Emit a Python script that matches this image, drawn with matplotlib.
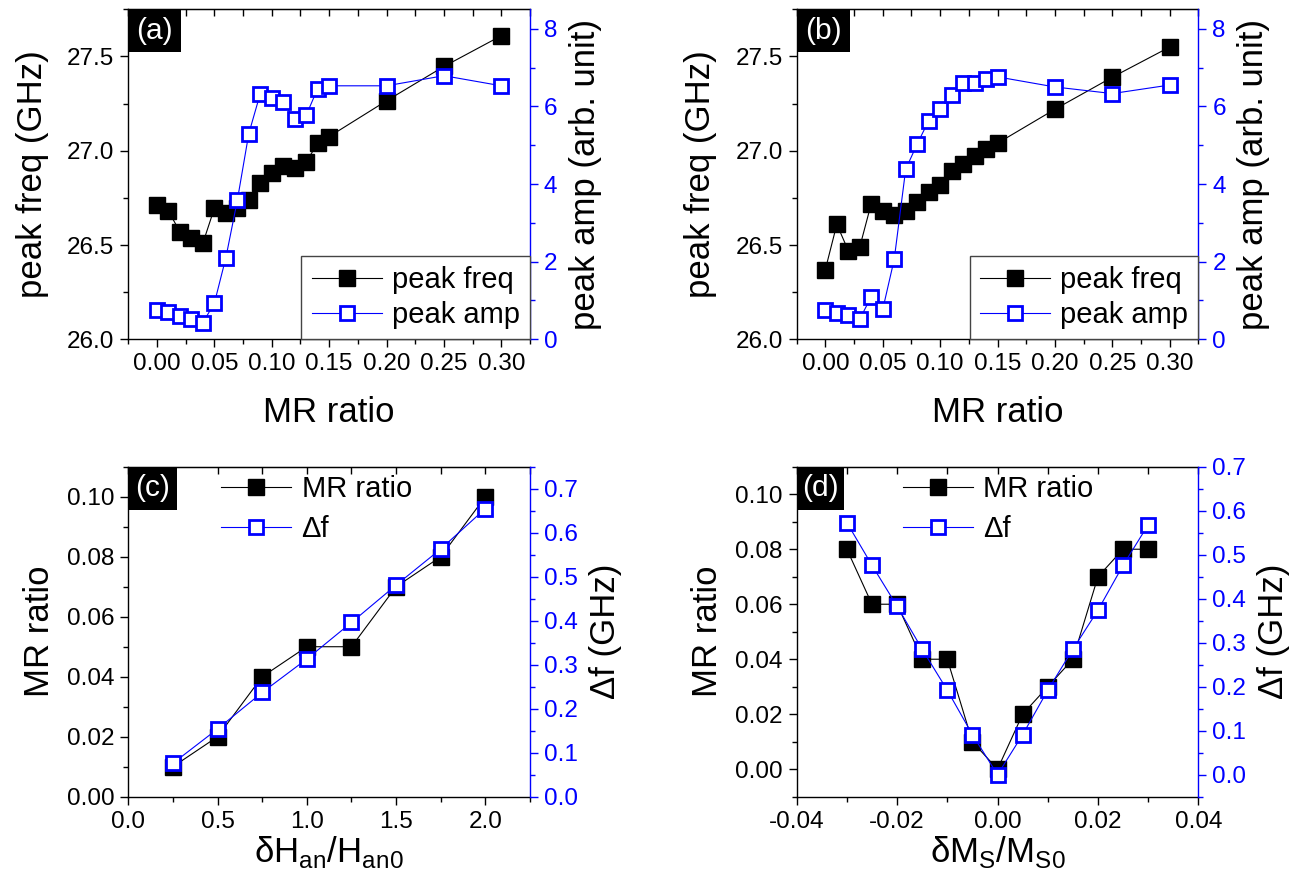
"""Four-panel MR ratio / peak frequency figure."""

import matplotlib
matplotlib.use("Agg")
import matplotlib.pyplot as plt
import matplotlib.patches as mpatches
from matplotlib.ticker import MultipleLocator, FormatStrFormatter

plt.rcParams["font.family"] = ["Liberation Sans", "DejaVu Sans"]
plt.rcParams["mathtext.fontset"] = "custom"
plt.rcParams["mathtext.rm"] = "Liberation Sans"
plt.rcParams["axes.unicode_minus"] = False

BLUE = "#0000FF"
BLACK = "#000000"

# ─── Data ─────────────────────────────────────────────────────────────────────
mr_ratio = [0.00, 0.01, 0.02, 0.03, 0.04, 0.05, 0.06, 0.07, 0.08, 0.09,
            0.10, 0.11, 0.12, 0.13, 0.14, 0.15, 0.20, 0.25, 0.30]

freq_a = [26.71, 26.68, 26.57, 26.535, 26.51, 26.695, 26.67, 26.695, 26.74, 26.83,
          26.88, 26.92, 26.91, 26.94, 27.04, 27.075, 27.265, 27.447, 27.61]
amp_a = [0.75, 0.71, 0.60, 0.52, 0.43, 0.93, 2.10, 3.58, 5.30, 6.33,
         6.21, 6.10, 5.67, 5.77, 6.46, 6.53, 6.53, 6.79, 6.53]

freq_b = [26.37, 26.61, 26.47, 26.49, 26.72, 26.68, 26.66, 26.68, 26.73, 26.78,
          26.82, 26.89, 26.93, 26.97, 27.01, 27.04, 27.22, 27.39, 27.55]
amp_b = [0.75, 0.69, 0.63, 0.52, 1.10, 0.77, 2.06, 4.38, 5.03, 5.63,
         5.93, 6.30, 6.61, 6.60, 6.70, 6.76, 6.50, 6.33, 6.55]

dh_an = [0.25, 0.50, 0.75, 1.00, 1.25, 1.50, 1.75, 2.00]
mr_c = [0.01, 0.02, 0.04, 0.05, 0.05, 0.07, 0.08, 0.10]
df_c = [0.076, 0.154, 0.237, 0.313, 0.396, 0.481, 0.563, 0.655]

dm_s = [-0.030, -0.025, -0.020, -0.015, -0.010, -0.005, 0.000,
        0.005, 0.010, 0.015, 0.020, 0.025, 0.030]
mr_d = [0.08, 0.06, 0.06, 0.04, 0.04, 0.01, 0.00, 0.02, 0.03, 0.04, 0.07, 0.08, 0.08]
df_d = [0.573, 0.476, 0.383, 0.285, 0.192, 0.091, 0.000, 0.091, 0.192, 0.285, 0.374, 0.476, 0.568]

TICK_FS = 17.5
LABEL_FS = 25
LEGEND_FS = 21


def _panel(fig, rect, x, y1, y2, cfg):
    ax = fig.add_axes(rect)
    ax2 = ax.twinx()

    l1, = ax.plot(x, y1, "-s", color=BLACK, lw=0.8, ms=12, mfc=BLACK, mec=BLACK,
                  label=cfg["labels"][0])
    l2, = ax2.plot(x, y2, "-s", color=BLUE, lw=0.8, ms=10, mfc="white", mec=BLUE,
                   mew=2.0, label=cfg["labels"][1])

    ax.set_xlim(*cfg["xlim"])
    ax.set_ylim(*cfg["ylim"])
    ax2.set_ylim(*cfg["ylim2"])
    ax.xaxis.set_major_locator(MultipleLocator(cfg["xmaj"]))
    ax.xaxis.set_minor_locator(MultipleLocator(cfg["xmaj"] / 2))
    ax.xaxis.set_major_formatter(FormatStrFormatter(cfg["xfmt"]))
    ax.yaxis.set_major_locator(MultipleLocator(cfg["ymaj"]))
    ax.yaxis.set_minor_locator(MultipleLocator(cfg["ymaj"] / 2))
    ax.yaxis.set_major_formatter(FormatStrFormatter(cfg["yfmt"]))
    ax2.yaxis.set_major_locator(MultipleLocator(cfg["ymaj2"]))
    ax2.yaxis.set_minor_locator(MultipleLocator(cfg["ymaj2"] / 2))
    ax2.yaxis.set_major_formatter(FormatStrFormatter(cfg["yfmt2"]))

    for a in (ax, ax2):
        for s in a.spines.values():
            s.set_linewidth(1.0)
    ax.spines["right"].set_visible(False)
    ax2.spines["left"].set_visible(False)
    ax2.spines["top"].set_visible(False)
    ax2.spines["bottom"].set_visible(False)
    ax2.spines["right"].set_color(BLUE)

    ax.tick_params(which="both", direction="out", labelsize=TICK_FS, width=1.0, pad=4.5)
    ax.tick_params(which="major", length=5.5)
    ax.tick_params(which="minor", length=3.5)
    ax2.tick_params(which="both", direction="out", colors=BLUE, labelsize=TICK_FS,
                    width=1.0, pad=4.5)
    ax2.tick_params(which="major", length=5.5)
    ax2.tick_params(which="minor", length=3.5)

    # inward ticks along the top edge
    top = ax.secondary_xaxis("top")
    top.xaxis.set_major_locator(MultipleLocator(cfg["xmaj"]))
    top.xaxis.set_minor_locator(MultipleLocator(cfg["xmaj"] / 2))
    top.tick_params(which="both", direction="in", labeltop=False, length=5, width=1.0)

    ax.set_xlabel(cfg["xlabel"], fontsize=LABEL_FS, labelpad=cfg["xpad"])
    ax.set_ylabel(cfg["ylabel"], fontsize=LABEL_FS, labelpad=cfg["ypad"])
    ax2.set_ylabel(cfg["ylabel2"], fontsize=LABEL_FS, labelpad=8)

    # panel tag: white text on a black box in the top-left corner
    bw, bh = cfg["tagw"] / (rect[2] * 1309), 43 / (rect[3] * 888)
    ax2.add_patch(mpatches.Rectangle((0, 1 - bh), bw, bh, transform=ax2.transAxes,
                                     facecolor=BLACK, edgecolor="none", zorder=10,
                                     clip_on=False))
    ax2.text(bw / 2, 1 - bh / 2, cfg["tag"], transform=ax2.transAxes, ha="center",
             va="center", color="white", fontsize=21.5, zorder=11)

    leg = ax2.legend(handles=[l1, l2], numpoints=1, fontsize=LEGEND_FS,
                     handlelength=2.4, handletextpad=0.35, borderpad=0.35,
                     **cfg["legend"])
    leg.set_zorder(12)
    if cfg["legend"].get("frameon", True):
        fr = leg.get_frame()
        fr.set_edgecolor("#444444")
        fr.set_linewidth(1.0)
        fr.set_boxstyle("square", pad=0)
    return ax, ax2


fig = plt.figure(figsize=(13.09, 8.88), dpi=100)
fig.patch.set_facecolor("white")

W, H = 0.3069, 0.3716
top_cfg = dict(xlim=(-0.025, 0.325), ylim=(26.0, 27.75), ylim2=(0, 8.5),
               xmaj=0.05, xfmt="%.2f", ymaj=0.5, yfmt="%.1f", ymaj2=2, yfmt2="%d",
               xlabel="MR ratio", ylabel="peak freq (GHz)", ylabel2="peak amp (arb. unit)",
               labels=("peak freq", "peak amp"), tagw=53, xpad=15, ypad=13,
               legend=dict(loc="lower right", bbox_to_anchor=(1.0, 0.0), borderaxespad=0,
                           fancybox=False, framealpha=1.0, labelspacing=0.25))

_panel(fig, [0.098, 0.6179, W, H], mr_ratio, freq_a, amp_a, dict(top_cfg, tag="(a)"))
_panel(fig, [0.6086, 0.6179, W, H], mr_ratio, freq_b, amp_b, dict(top_cfg, tag="(b)"))

_panel(fig, [0.098, 0.1028, W, H], dh_an, mr_c, df_c,
       dict(xlim=(0, 2.25), ylim=(0, 0.11), ylim2=(0, 0.75),
            xmaj=0.5, xfmt="%.1f", ymaj=0.02, yfmt="%.2f", ymaj2=0.1, yfmt2="%.1f",
            xlabel=r"δH$_{\mathregular{an}}$/H$_{\mathregular{an0}}$",
            ylabel="MR ratio", ylabel2="Δf (GHz)", xpad=1, ypad=8,
            labels=("MR ratio", "Δf"), tag="(c)", tagw=49,
            legend=dict(loc="upper left", bbox_to_anchor=(0.17, 1.05), frameon=False,
                        labelspacing=0.42)))

_panel(fig, [0.6086, 0.1028, W, H], dm_s, mr_d, df_d,
       dict(xlim=(-0.04, 0.04), ylim=(-0.01, 0.11), ylim2=(-0.05, 0.7),
            xmaj=0.02, xfmt="%.2f", ymaj=0.02, yfmt="%.2f", ymaj2=0.1, yfmt2="%.1f",
            xlabel=r"δM$_{\mathregular{S}}$/M$_{\mathregular{S0}}$",
            ylabel="MR ratio", ylabel2="Δf (GHz)", xpad=1, ypad=8,
            labels=("MR ratio", "Δf"), tag="(d)", tagw=47,
            legend=dict(loc="upper left", bbox_to_anchor=(0.203, 1.05), frameon=False,
                        labelspacing=0.42)))

fig.savefig("out.png", dpi=100, facecolor="white")
